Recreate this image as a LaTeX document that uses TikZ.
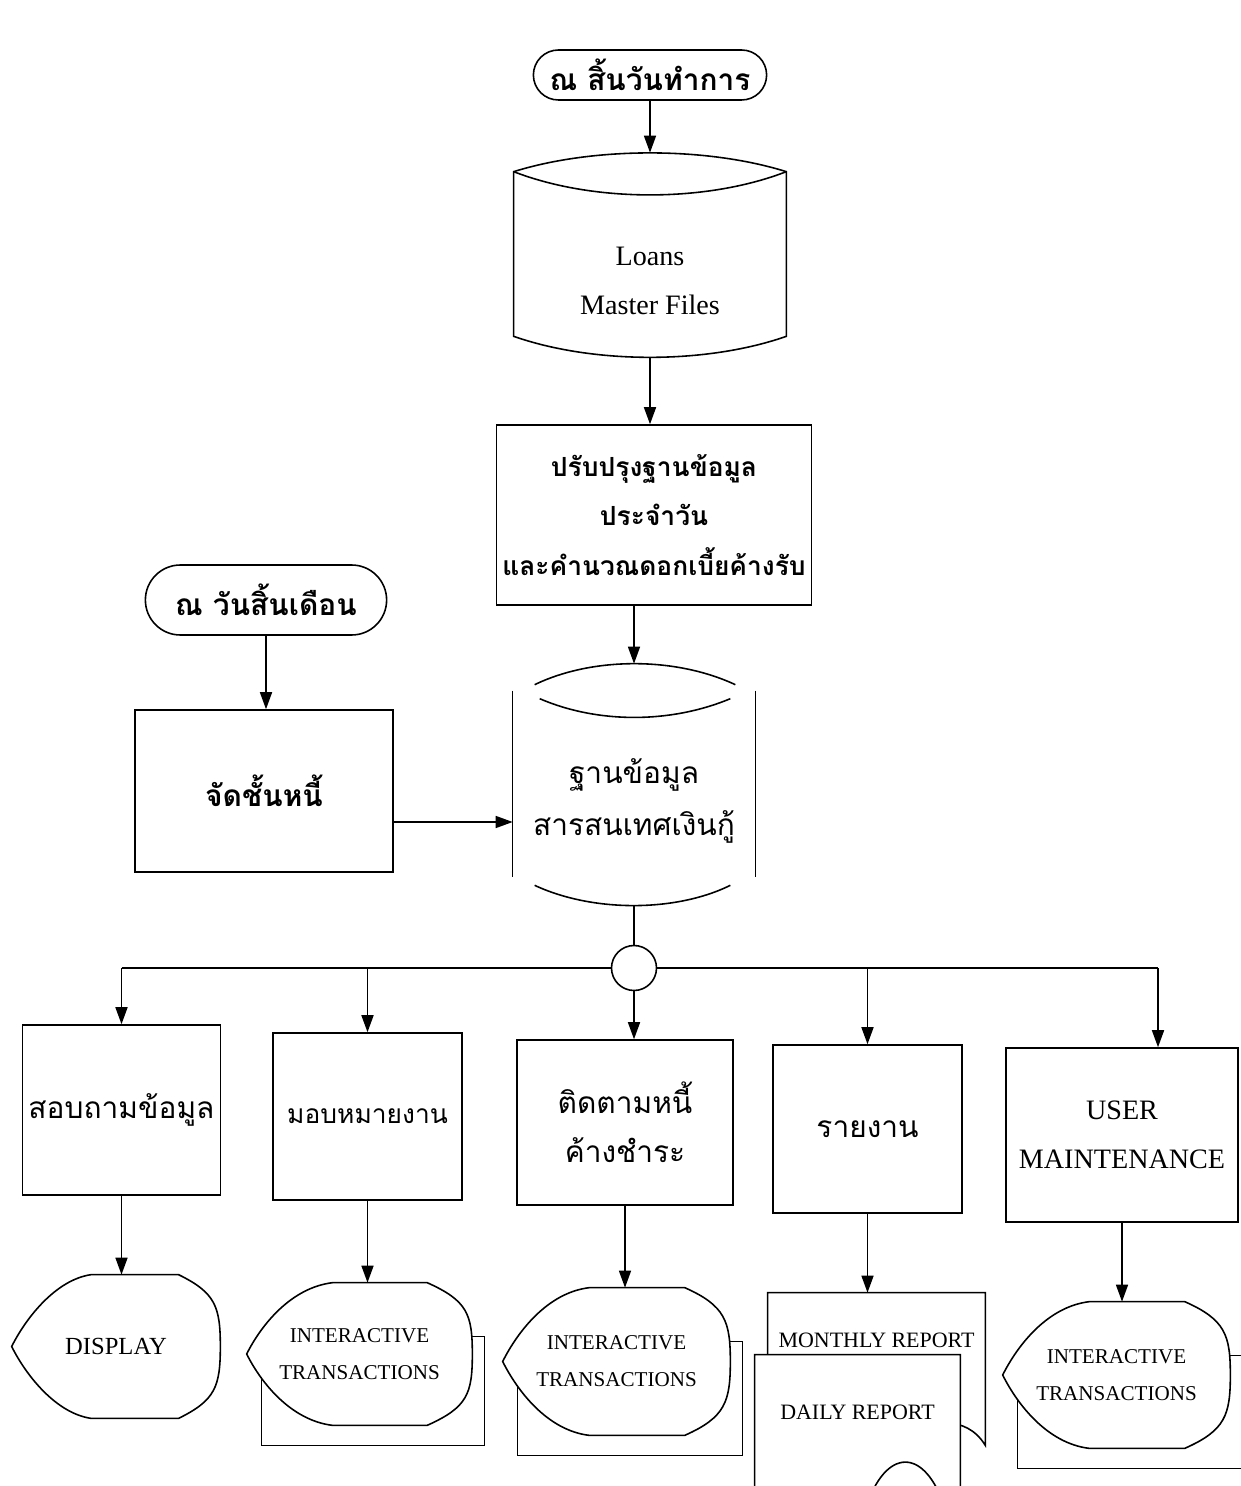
\documentclass[tikz,border=0pt]{standalone}
\usepackage{fontspec}
\setmainfont{Liberation Serif}
\newfontfamily\thaifont[Script=Thai]{Loma}
\usetikzlibrary{shapes.misc,arrows.meta,calc,backgrounds}
\tikzset{
  flow/.style={line width=0.9pt},
  arr/.style={flow,-{Triangle[length=3.4mm,width=2.4mm]}},
  thai/.style={font=\thaifont\fontsize{17}{28}\selectfont,align=center},
  thaib/.style={font=\thaifont\bfseries\fontsize{#1}{28}\selectfont,align=center},
  eng/.style={font=\fontsize{16}{28}\selectfont,align=center},
  caps/.style={font=\fontsize{12}{21}\selectfont,align=center},
  term/.style={thaib=17,draw,flow,rounded rectangle},
  proc/.style={draw,flow,rectangle},
  slot/.style={rectangle,inner sep=0pt},
}
\def\dispout#1{\filldraw[flow,fill=white] ($(#1.north west)!0.38!(#1.north east)$) -- ($(#1.north west)!0.8!(#1.north east)$)
  .. controls ($(#1.north east)+(-5,18)$) and ($(#1.east)+(0,-40)$) .. (#1.east)
  .. controls ($(#1.east)+(0,40)$) and ($(#1.south east)+(-5,-18)$) .. ($(#1.south west)!0.8!(#1.south east)$)
  -- ($(#1.south west)!0.38!(#1.south east)$)
  .. controls ($(#1.south west)+(45,-5)$) and ($(#1.west)+(15,30)$) .. (#1.west)
  .. controls ($(#1.west)+(15,-30)$) and ($(#1.north west)+(45,5)$) .. cycle;}
\def\stackback#1{\draw[flow] ($(#1.north west)+(15,54)$) rectangle ($(#1.south east)+(12,20)$);}

\begin{document}
\begin{tikzpicture}[x=0.02cm,y=-0.02cm]
\useasboundingbox (0,0) rectangle (1240,1486);
\node[term,minimum width=4.9cm,minimum height=1cm] (dayend) at (650,75) {ณ สิ้นวันทำการ};
\node[slot,eng,minimum width=5.44cm,minimum height=3.04cm] (loansdb) at (650,281) {Loans\\Master Files};
\node[proc,thaib=15,minimum width=6.16cm,minimum height=3.6cm] (update) at (654,515) {ปรับปรุงฐานข้อมูล\\ประจำวัน\\และคำนวณดอกเบี้ยค้างรับ};
\node[term,minimum width=5.06cm,minimum height=1.4cm] (monthend) at (266,600) {ณ วันสิ้นเดือน};
\node[proc,thaib=17,minimum width=5.16cm,minimum height=3.24cm] (classify) at (264,791) {จัดชั้นหนี้};
\node[slot,thai,font=\thaifont\fontsize{17}{30}\selectfont,minimum width=4.84cm,minimum height=4.16cm] (infodb) at (634,801) {ฐานข้อมูล\\สารสนเทศเงินกู้};
\node[draw,flow,circle,minimum size=0.9cm] (jn) at (634,968) {};

\node[proc,thai,minimum width=3.94cm,minimum height=3.4cm] (inquiry) at (121.5,1110) {สอบถามข้อมูล};
\node[proc,thai,font=\thaifont\fontsize{15}{28}\selectfont,minimum width=3.78cm,minimum height=3.34cm] (assign) at (367.5,1116.5) {มอบหมายงาน};
\node[proc,thai,minimum width=4.32cm,minimum height=3.3cm] (overdue) at (625,1122.5) {ติดตามหนี้\\ค้างชำระ};
\node[proc,thai,minimum width=3.78cm,minimum height=3.36cm] (report) at (867.5,1129) {รายงาน};
\node[proc,eng,minimum width=4.64cm,minimum height=3.48cm] (usermt) at (1122,1135) {USER\\MAINTENANCE};

\node[slot,font=\fontsize{14}{20}\selectfont,minimum width=4.16cm,minimum height=2.86cm] (dsp) at (116,1346.5) {DISPLAY};
\node[slot,caps,minimum width=4.5cm,minimum height=2.84cm] (itxa) at (359.5,1354) {INTERACTIVE\\TRANSACTIONS};
\node[slot,caps,minimum width=4.54cm,minimum height=2.94cm] (itxb) at (616.5,1361.5) {INTERACTIVE\\TRANSACTIONS};
\node[slot,font=\fontsize{12.5}{20}\selectfont,minimum width=4.34cm,minimum height=1.88cm] (mrep) at (876.5,1340) {MONTHLY REPORT};
\node[slot,font=\fontsize{12.5}{20}\selectfont,minimum width=4.1cm,minimum height=2.28cm] (drep) at (857.5,1412) {DAILY REPORT};
\node[slot,caps,minimum width=4.54cm,minimum height=2.92cm] (itxc) at (1116.5,1375) {INTERACTIVE\\TRANSACTIONS};

\begin{scope}[on background layer]
\draw[flow] ($(loansdb.south west)+(0,-21)$) -- ($(loansdb.north west)+(0,-33)$)
  .. controls ($(loansdb.north west)+(80,-58)$) and ($(loansdb.north east)+(-80,-58)$) .. ($(loansdb.north east)+(0,-33)$)
  -- ($(loansdb.south east)+(0,-21)$)
  .. controls ($(loansdb.south east)+(-80,7)$) and ($(loansdb.south west)+(80,7)$) .. cycle;
\draw[flow] ($(loansdb.north west)+(0,-33)$) .. controls ($(loansdb.north west)+(80,-2)$) and ($(loansdb.north east)+(-80,-2)$) .. ($(loansdb.north east)+(0,-33)$);
\draw[flow] ($(infodb.north west)+(22,-12)$) .. controls ($(infodb.north west)+(80,-40)$) and ($(infodb.north east)+(-80,-40)$) .. ($(infodb.north east)+(-20,-12)$);
\draw[flow] ($(infodb.north west)+(27,2)$) .. controls ($(infodb.north west)+(85,27)$) and ($(infodb.north east)+(-85,27)$) .. ($(infodb.north east)+(-25,2)$);
\draw[flow] ($(infodb.north west)+(0,-6)$) -- ($(infodb.south west)+(0,-28)$);
\draw[flow] ($(infodb.north east)+(0,-6)$) -- ($(infodb.south east)+(0,-28)$);
\draw[flow] ($(infodb.south west)+(22,-20)$) .. controls ($(infodb.south west)+(80,7)$) and ($(infodb.south east)+(-80,7)$) .. ($(infodb.south east)+(-25,-20)$);
\dispout{dsp}
\stackback{itxa} \dispout{itxa}
\stackback{itxb} \dispout{itxb}
\stackback{itxc} \dispout{itxc}
\draw[flow] ($(mrep.south west)+(0,60)$) -- (mrep.north west) -- (mrep.north east) -- ($(mrep.south east)+(0,58)$)
  .. controls ($(mrep.south east)+(-40,-6)$) and ($(mrep.south west)+(80,90)$) .. ($(mrep.south west)+(0,60)$);
\filldraw[flow,fill=white] ($(drep.south west)+(0,45)$) -- (drep.north west) -- (drep.north east) -- ($(drep.south east)+(0,45)$)
  -- ($(drep.south east)+(-15,40)$) .. controls ($(drep.south east)+(-35,-23)$) and ($(drep.south east)+(-75,-23)$) .. ($(drep.south east)+(-95,40)$) -- cycle;
\end{scope}

\coordinate (loanstop) at ($(loansdb.north)+(0,-52)$);
\coordinate (infotop) at ($(infodb.north)+(0,-33)$);
\coordinate (busL) at (inquiry.north |- jn);
\coordinate (busR) at (1158,968);
\draw[arr] (dayend.south) -- (loanstop);
\draw[arr] (loansdb.south) -- (loansdb.south |- update.north);
\draw[arr] (infotop |- update.south) -- (infotop);
\draw[arr] (monthend.south) -- (monthend.south |- classify.north);
\draw[arr] ([yshift=-0.62cm]classify.east) -- ([yshift=-0.62cm]classify.east -| infodb.west);
\draw[flow] (infodb.south) -- (jn.north);
\draw[flow] (busL) -- (jn.west) (jn.east) -- (busR);
\draw[arr] (busL) -- (inquiry.north);
\draw[arr] (assign.north |- jn) -- (assign.north);
\draw[arr] (jn.south) -- (jn.south |- overdue.north);
\draw[arr] (report.north |- jn) -- (report.north);
\draw[arr] (busR) -- (busR |- usermt.north);
\draw[arr] (inquiry.south) -- (inquiry.south |- dsp.north);
\draw[arr] (assign.south) -- (assign.south |- itxa.north);
\draw[arr] (overdue.south) -- (overdue.south |- itxb.north);
\draw[arr] (report.south) -- (report.south |- mrep.north);
\draw[arr] (usermt.south) -- (usermt.south |- itxc.north);
\end{tikzpicture}
\end{document}
